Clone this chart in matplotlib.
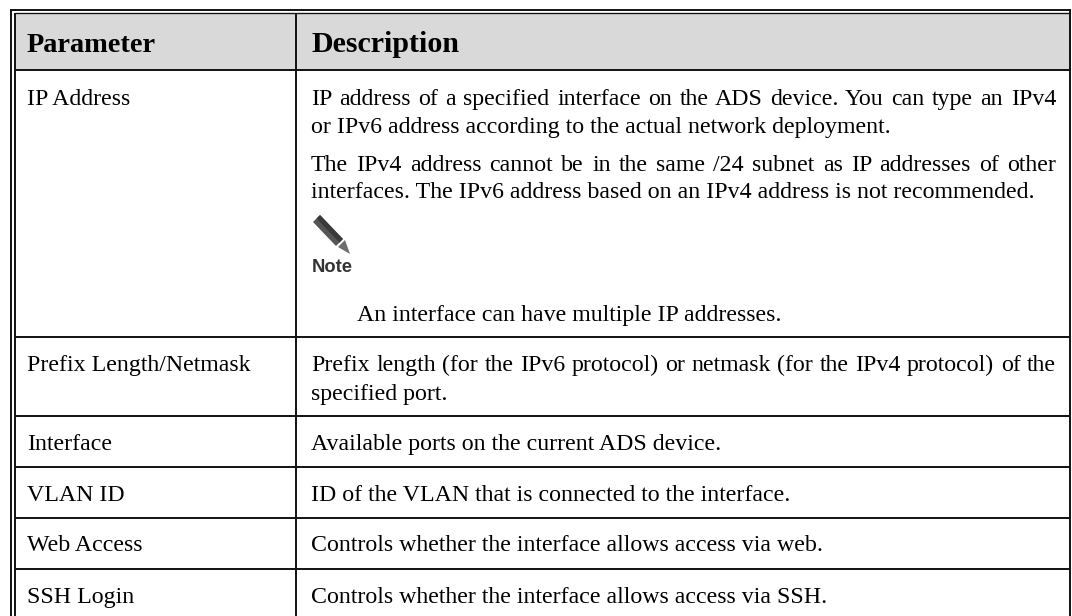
import matplotlib
matplotlib.use("Agg")
import matplotlib.pyplot as plt
from matplotlib.patches import Polygon, Rectangle

W, H = 1072, 616
HEAD = ["Parameter", "Description"]
PARAMS = ["IP Address", "Prefix Length/Netmask", "Interface", "VLAN ID", "Web Access", "SSH Login"]
PARAM_Y = [97, 363, 442, 493, 543, 595]
ROW_LINES = [70, 337, 416, 467, 518, 569]
# text, y, justified
DESC = [
    ("IP address of a specified interface on the ADS device. You can type an IPv4", 97, True),
    ("or IPv6 address according to the actual network deployment.", 125, False),
    ("The IPv4 address cannot be in the same /24 subnet as IP addresses of other", 163, True),
    ("interfaces. The IPv6 address based on an IPv4 address is not recommended.", 190, False),
    ("Prefix length (for the IPv6 protocol) or netmask (for the IPv4 protocol) of the", 363, True),
    ("specified port.", 392, False),
    ("Available ports on the current ADS device.", 442, False),
    ("ID of the VLAN that is connected to the interface.", 493, False),
    ("Controls whether the interface allows access via web.", 543, False),
    ("Controls whether the interface allows access via SSH.", 595, False),
]
NOTE = "An interface can have multiple IP addresses."

plt.rcParams["font.family"] = ["Liberation Serif"]
fig = plt.figure(figsize=(W / 100, H / 100), dpi=100)
ax = fig.add_axes([0, 0, 1, 1])
ax.set_xlim(0, W)
ax.set_ylim(H, 0)
ax.axis("off")

LEFT, DIV, RIGHT, TOP = 15, 296, 1069.5, 12.5
TXT_L, TXT_R = 27, 1056
DX = 311
FS = 17.2
BLK = "#111111"
lw = 1.4

ax.add_patch(Rectangle((LEFT, TOP), RIGHT - LEFT, ROW_LINES[0] - TOP, fc="#d9d9d9", ec="none"))
ax.plot([11, 11], [9, H], color=BLK, lw=lw, solid_capstyle="butt")
ax.plot([LEFT, LEFT], [TOP, H], color=BLK, lw=lw, solid_capstyle="butt")
ax.plot([10, RIGHT + 1], [9.5, 9.5], color=BLK, lw=lw, solid_capstyle="butt")
ax.plot([LEFT, RIGHT], [TOP, TOP], color=BLK, lw=lw * 0.7, solid_capstyle="butt")
ax.plot([DIV, DIV], [TOP, H], color=BLK, lw=lw, solid_capstyle="butt")
ax.plot([RIGHT, RIGHT], [9, H], color=BLK, lw=lw, solid_capstyle="butt")
for y in ROW_LINES:
    ax.plot([LEFT, RIGHT], [y, y], color=BLK, lw=lw, solid_capstyle="butt")

ax.text(TXT_L, 52, HEAD[0], fontsize=20.4, fontweight="bold", va="baseline")
ax.text(DX + 1, 52, HEAD[1], fontsize=21.6, fontweight="bold", va="baseline")

for name, y in zip(PARAMS, PARAM_Y):
    ax.text(TXT_L, y, name, fontsize=FS, va="center_baseline")

renderer = fig.canvas.get_renderer()


def width(s):
    t = ax.text(0, 0, s, fontsize=FS)
    w = t.get_window_extent(renderer).width
    t.remove()
    return w


for line, y, just in DESC:
    if not just:
        ax.text(DX, y, line, fontsize=FS, va="center_baseline")
        continue
    words = line.split(" ")
    extra = (TXT_R - DX - width(line)) / (len(words) - 1)
    for i, w in enumerate(words):
        right = DX + width(" ".join(words[: i + 1])) + i * extra
        ax.text(right, y, w, fontsize=FS, va="center_baseline", ha="right")

ax.text(357, 313, NOTE, fontsize=FS, va="center_baseline")

# note icon
ax.add_patch(Polygon([(313, 222), (320, 215), (343, 239), (336, 246)], fc="#555555", ec="none"))
ax.add_patch(Polygon([(316.5, 218.5), (320, 215), (343, 239), (339.5, 242.5)], fc="#3a3a3a", ec="none"))
ax.add_patch(Polygon([(338, 247), (345, 240), (350, 254)], fc="#6e6e6e", ec="none"))
ax.text(332, 267, "Note", fontsize=13.2, fontweight="bold", family=["Liberation Sans"],
        ha="center", va="center", color="#333333")

fig.savefig("out.png", dpi=100)
